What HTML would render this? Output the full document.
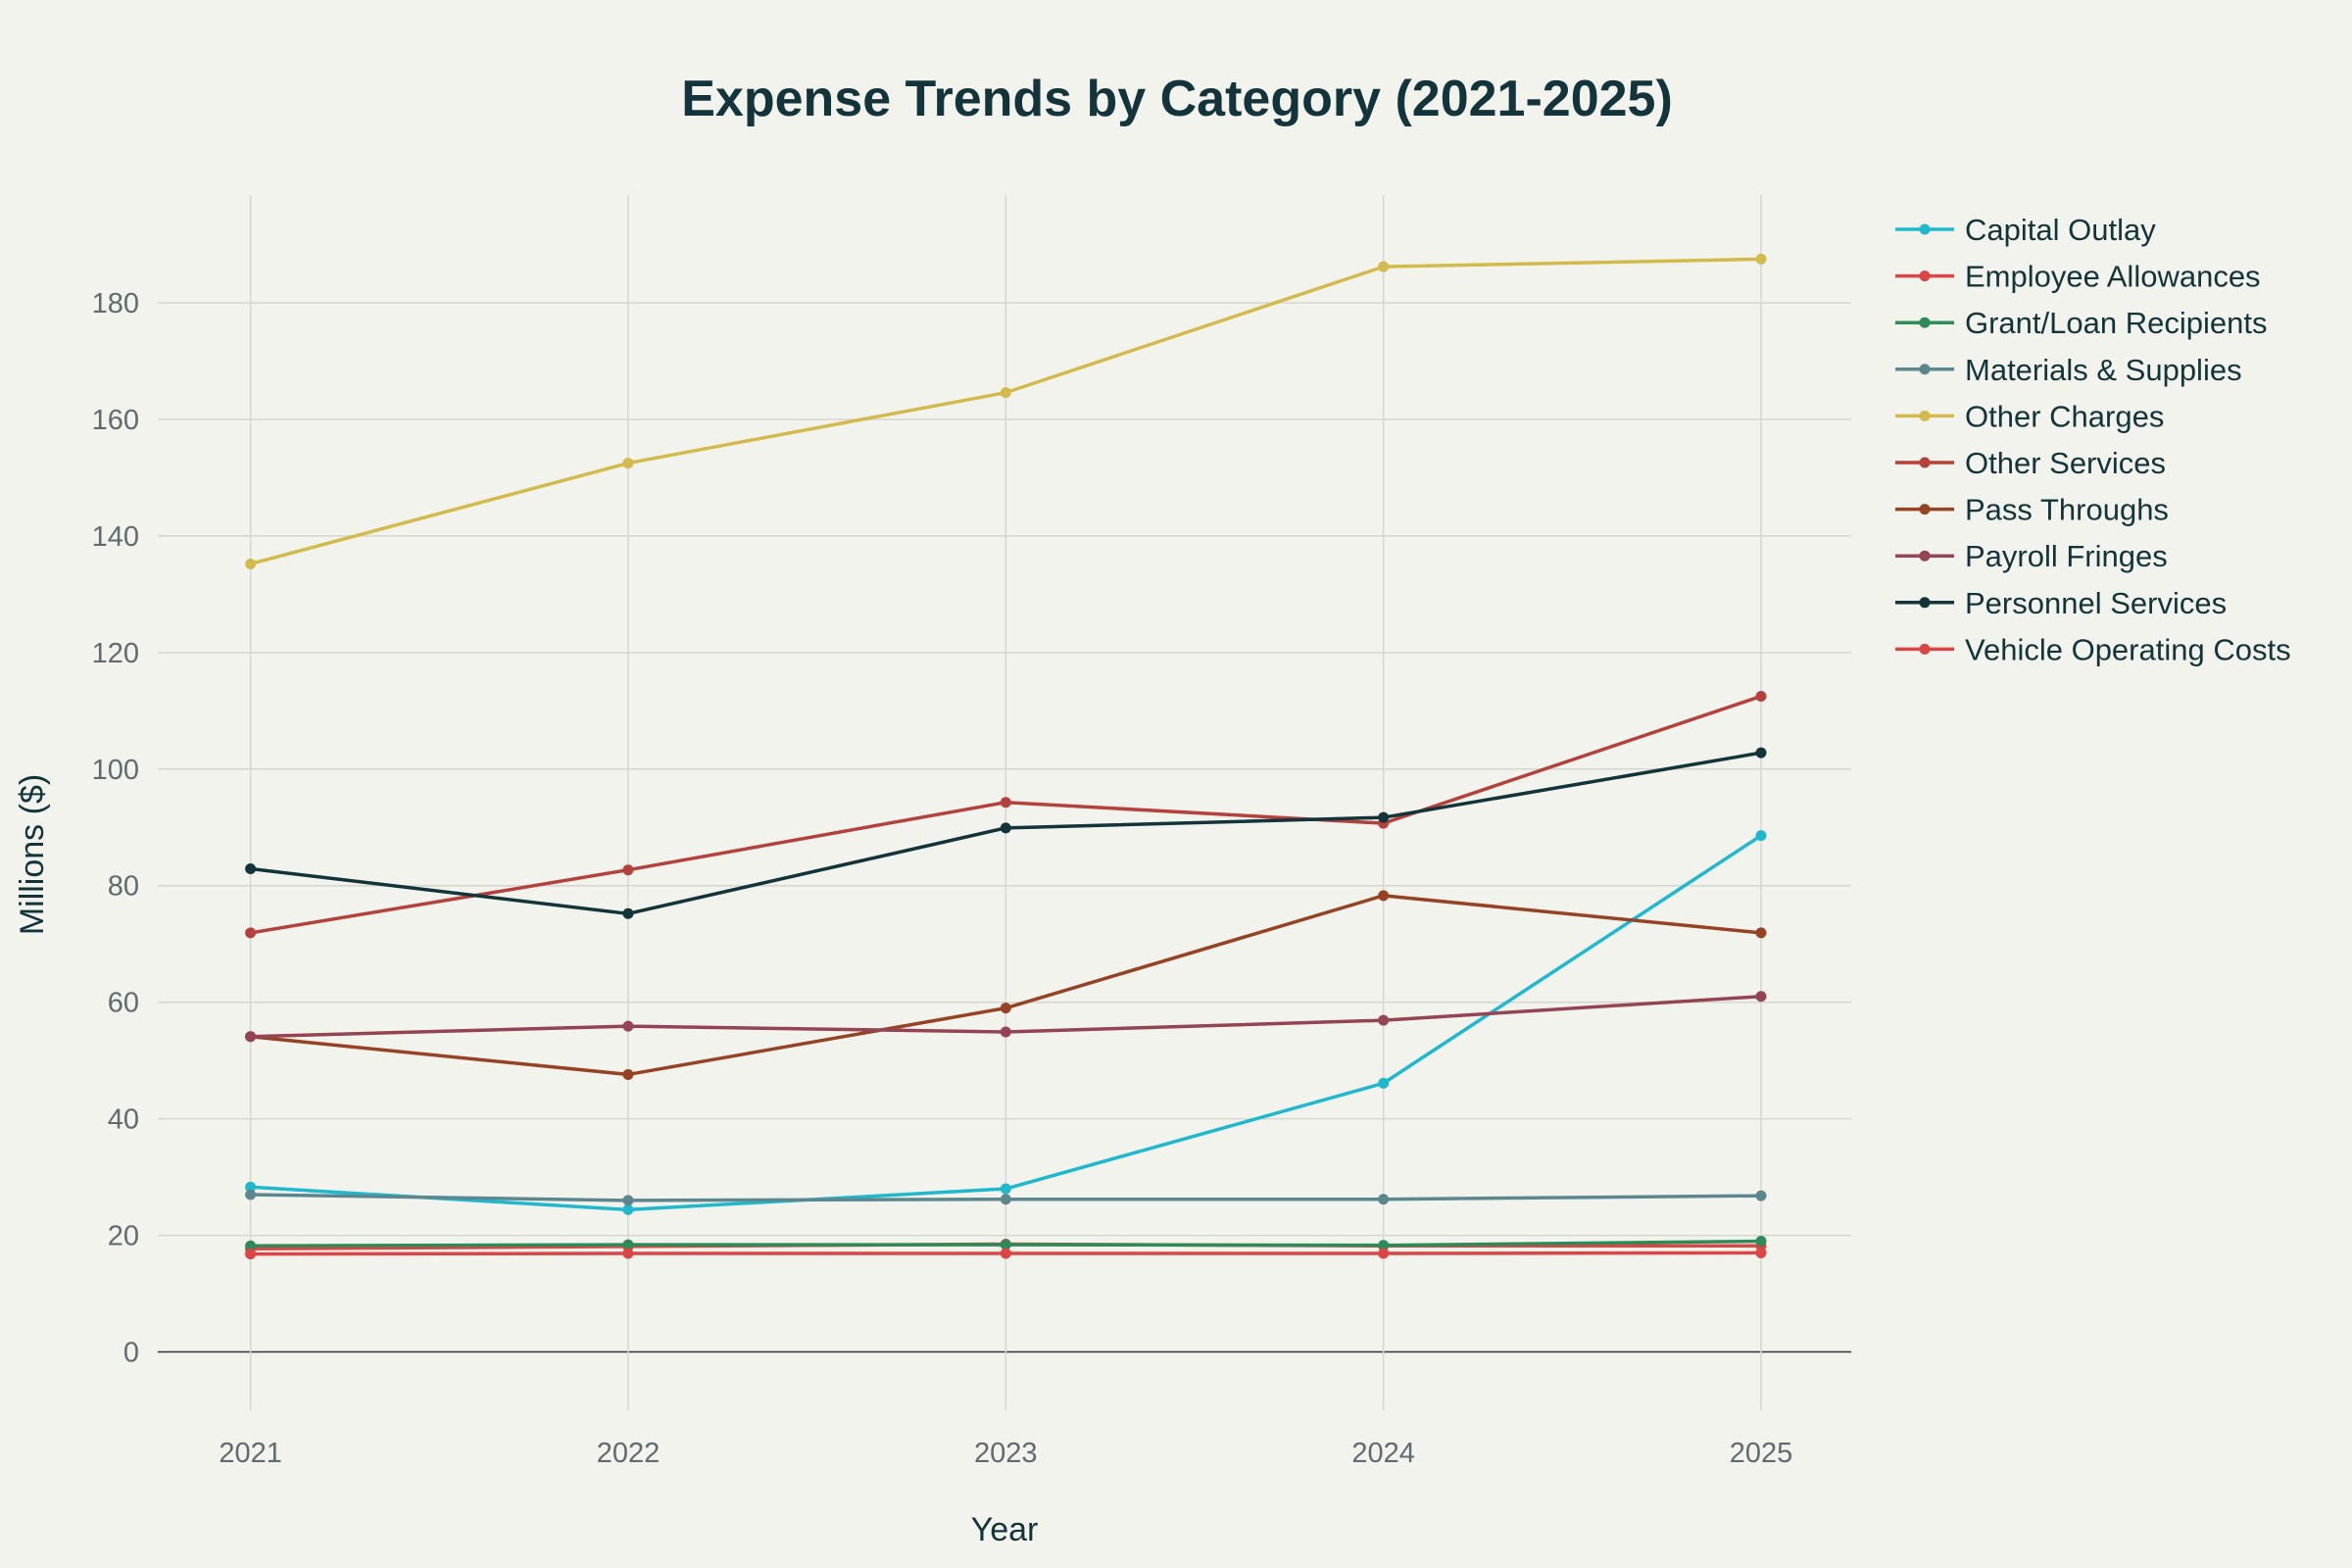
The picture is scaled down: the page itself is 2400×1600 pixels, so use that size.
<!DOCTYPE html>
<html><head><meta charset="utf-8"><style>
html,body{margin:0;padding:0;background:#F3F3EE;}
svg{display:block;font-family:"Liberation Sans",sans-serif;}
</style></head><body>
<svg id="chart" width="2400" height="1600" viewBox="0 0 2400 1600">
<rect width="2400" height="1600" fill="#F3F3EE"/>
<text x="1201" y="118" text-anchor="middle" font-size="52" font-weight="bold" fill="#13343B">Expense Trends by Category (2021-2025)</text>
<g id="grid"></g>
<g id="series"></g>
<g id="legend"></g>
<text x="1025" y="1572" text-anchor="middle" font-size="34" fill="#13343B">Year</text>
<text transform="translate(44,872) rotate(-90)" text-anchor="middle" font-size="34" fill="#13343B">Millions ($)</text>
</svg>
<script>
const years = [2021, 2022, 2023, 2024, 2025];
const yTicks = [0, 20, 40, 60, 80, 100, 120, 140, 160, 180];
const seriesNames = ["Capital Outlay","Employee Allowances","Grant/Loan Recipients","Materials & Supplies","Other Charges","Other Services","Pass Throughs","Payroll Fringes","Personnel Services","Vehicle Operating Costs"];
const seriesColors = ["#1FB8CD","#DB4545","#2E8B57","#5D878F","#D2BA4C","#B4413C","#964325","#944454","#13343B","#DB4545"];
const capitalOutlay = [28.3, 24.4, 28.0, 46.1, 88.6];
const employeeAllowances = [17.7, 18.1, 18.5, 18.2, 18.2];
const grantLoan = [18.2, 18.4, 18.4, 18.3, 19.0];
const materialsSupplies = [27.0, 26.0, 26.2, 26.2, 26.8];
const otherCharges = [135.2, 152.5, 164.6, 186.2, 187.5];
const otherServices = [71.9, 82.7, 94.3, 90.7, 112.5];
const passThroughs = [54.1, 47.6, 59.0, 78.3, 71.9];
const payrollFringes = [54.1, 55.9, 54.9, 56.9, 61.0];
const personnelServices = [82.9, 75.2, 89.9, 91.7, 102.8];
const vehicleCosts = [16.8, 16.9, 16.9, 16.9, 17.0];
const allSeries = [capitalOutlay, employeeAllowances, grantLoan, materialsSupplies, otherCharges, otherServices, passThroughs, payrollFringes, personnelServices, vehicleCosts];

const NS = "http://www.w3.org/2000/svg";
const plotL = 161, plotR = 1889, plotT = 199, plotB = 1439;
const yMin = -10, yMax = 198.5;
function xScale(yr){ return 255.6 + (yr - years[0]) * (1797 - 255.6) / (years[years.length-1] - years[0]); }
function yScale(v){ return plotB - (v - yMin) * (plotB - plotT) / (yMax - yMin); }
function mk(tag, attrs, parent){ const e = document.createElementNS(NS, tag); for (const k in attrs) e.setAttribute(k, attrs[k]); parent.appendChild(e); return e; }

const grid = document.getElementById('grid');
yTicks.forEach(t => {
  const y = yScale(t);
  const l = mk('line', {x1: plotL, x2: plotR, y1: y, y2: y, stroke: t === 0 ? '#333' : '#d6d6d0', 'stroke-width': 1.5}, grid);
  
  
  const tx = mk('text', {x: 142, y: y + 10, 'text-anchor': 'end', 'font-size': 29, fill: '#5f6b6d'}, grid);
  tx.textContent = t;
  
  
});
years.forEach(yr => {
  const x = xScale(yr);
  const l = mk('line', {x1: x, x2: x, y1: plotT, y2: plotB, stroke: '#d6d6d0', 'stroke-width': 1.5}, grid);
  
  
  const tx = mk('text', {x: x, y: 1492, 'text-anchor': 'middle', 'font-size': 29, fill: '#5f6b6d'}, grid);
  tx.textContent = yr;
  
  
});

const sg = document.getElementById('series');
allSeries.forEach((vals, i) => {
  const g = mk('g', {}, sg);
  
  
  const pts = vals.map((v, j) => xScale(years[j]) + ',' + yScale(v)).join(' ');
  const pl = mk('polyline', {points: pts, fill: 'none', stroke: seriesColors[i], 'stroke-width': 3.5, 'stroke-linejoin': 'round'}, g);
  
  
  vals.forEach((v, j) => {
    const c = mk('circle', {cx: xScale(years[j]), cy: yScale(v), r: 5.5, fill: seriesColors[i]}, g);
    
    
  });
});

const lg = document.getElementById('legend');
seriesNames.forEach((n, i) => {
  const y = 234 + i * 47.6;
  const g = mk('g', {}, lg);
  
  
  mk('line', {x1: 1934, x2: 1994, y1: y, y2: y, stroke: seriesColors[i], 'stroke-width': 3.5}, g);
  mk('circle', {cx: 1964, cy: y, r: 5.5, fill: seriesColors[i]}, g);
  const t = mk('text', {x: 2005, y: y + 11, 'font-size': 31, fill: '#13343B'}, g);
  t.textContent = n;
});
</script>
</body></html>
